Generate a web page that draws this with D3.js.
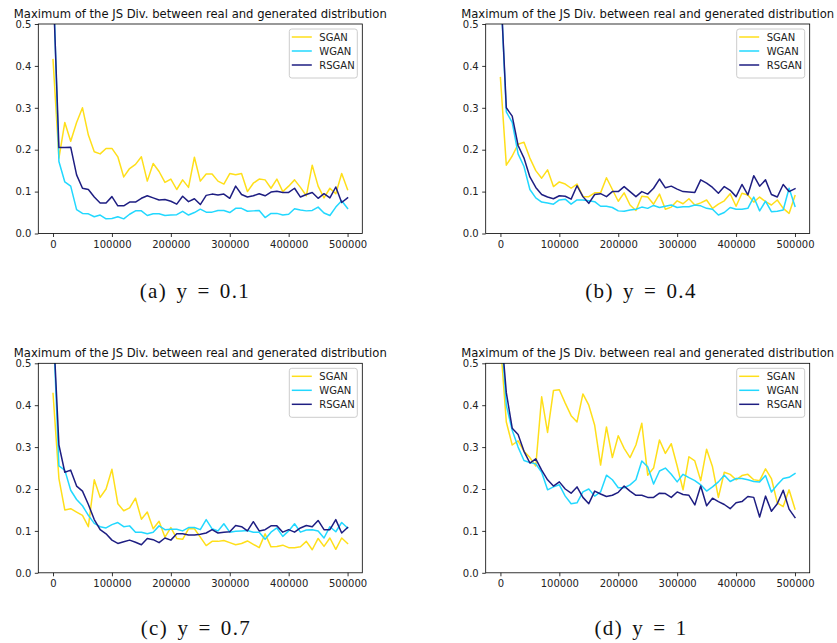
<!DOCTYPE html>
<html>
<head>
<meta charset="utf-8">
<script src="https://cdn.jsdelivr.net/npm/d3@7/dist/d3.min.js"></script>
<style>
  html, body { margin: 0; padding: 0; background: #ffffff; }
  svg { display: block; }
</style>
</head>
<body>
<script>
// ---------------- DATA ----------------
const steps = d3.range(0, 500001, 10000); // 51 iteration checkpoints
const seriesNames = ["SGAN", "WGAN", "RSGAN"];
const xTicks = [0, 100000, 200000, 300000, 400000, 500000];
const yTicks = [0.0, 0.1, 0.2, 0.3, 0.4, 0.5];
const chartTitle = "Maximum of the JS Div. between real and generated distribution";
const captions = ["(a) y = 0.1", "(b) y = 0.4", "(c) y = 0.7", "(d) y = 1"];

// Panel (a) y = 0.1
const sganA = [0.415,0.18,0.265,0.22,0.265,0.30,0.235,0.195,0.19,0.203,0.203,0.183,0.135,0.155,0.165,0.183,0.125,0.167,0.148,0.122,0.13,0.105,0.128,0.11,0.182,0.125,0.142,0.142,0.125,0.118,0.143,0.14,0.143,0.10,0.12,0.13,0.128,0.108,0.13,0.10,0.113,0.128,0.11,0.09,0.163,0.113,0.085,0.108,0.095,0.143,0.105];
const wganA = [0.62,0.172,0.123,0.113,0.057,0.048,0.047,0.04,0.044,0.035,0.036,0.04,0.035,0.046,0.054,0.054,0.043,0.047,0.047,0.043,0.044,0.045,0.053,0.044,0.05,0.058,0.051,0.051,0.055,0.055,0.05,0.06,0.06,0.053,0.054,0.055,0.038,0.048,0.048,0.044,0.046,0.059,0.056,0.054,0.055,0.063,0.049,0.043,0.063,0.078,0.06];
const rsganA = [0.6,0.205,0.205,0.206,0.14,0.108,0.105,0.087,0.073,0.073,0.088,0.066,0.066,0.075,0.075,0.084,0.09,0.085,0.08,0.081,0.077,0.07,0.089,0.076,0.083,0.069,0.091,0.094,0.092,0.094,0.084,0.113,0.093,0.087,0.09,0.095,0.09,0.099,0.101,0.098,0.098,0.108,0.087,0.093,0.098,0.084,0.095,0.085,0.111,0.074,0.085];

// Panel (b) y = 0.4
const sganB = [0.372,0.163,0.185,0.213,0.218,0.18,0.15,0.132,0.152,0.112,0.123,0.118,0.108,0.118,0.088,0.088,0.097,0.097,0.133,0.105,0.077,0.097,0.068,0.055,0.089,0.087,0.07,0.094,0.058,0.063,0.078,0.071,0.083,0.068,0.073,0.08,0.06,0.07,0.078,0.095,0.065,0.096,0.092,0.075,0.087,0.076,0.068,0.08,0.06,0.048,0.09];
const wganB = [0.6,0.29,0.265,0.19,0.16,0.105,0.085,0.075,0.073,0.07,0.08,0.082,0.07,0.08,0.08,0.078,0.076,0.065,0.065,0.062,0.054,0.053,0.056,0.058,0.063,0.06,0.067,0.062,0.065,0.068,0.062,0.064,0.064,0.068,0.066,0.06,0.058,0.044,0.05,0.062,0.058,0.058,0.06,0.087,0.054,0.077,0.052,0.053,0.056,0.108,0.065];
const rsganB = [0.6,0.30,0.28,0.21,0.18,0.135,0.11,0.093,0.087,0.083,0.09,0.089,0.082,0.114,0.088,0.072,0.093,0.095,0.088,0.1,0.1,0.112,0.1,0.088,0.1,0.094,0.108,0.13,0.109,0.113,0.106,0.1,0.099,0.098,0.128,0.12,0.11,0.096,0.112,0.103,0.088,0.117,0.092,0.138,0.113,0.128,0.093,0.087,0.117,0.1,0.107];

// Panel (c) y = 0.7
const sganC = [0.428,0.225,0.15,0.153,0.145,0.137,0.11,0.222,0.18,0.2,0.247,0.165,0.148,0.155,0.178,0.128,0.145,0.105,0.123,0.085,0.108,0.082,0.08,0.105,0.105,0.085,0.065,0.075,0.075,0.077,0.072,0.067,0.07,0.076,0.068,0.06,0.093,0.062,0.063,0.066,0.06,0.06,0.062,0.075,0.055,0.082,0.063,0.083,0.056,0.083,0.07];
const wganC = [0.6,0.255,0.245,0.197,0.175,0.16,0.137,0.118,0.11,0.107,0.115,0.12,0.11,0.112,0.097,0.097,0.093,0.097,0.112,0.103,0.104,0.104,0.1,0.108,0.108,0.103,0.127,0.105,0.1,0.117,0.097,0.099,0.1,0.101,0.097,0.097,0.08,0.097,0.107,0.087,0.1,0.117,0.097,0.102,0.103,0.1,0.083,0.11,0.098,0.12,0.107];
const rsganC = [0.6,0.305,0.24,0.245,0.207,0.195,0.163,0.127,0.103,0.093,0.078,0.07,0.074,0.078,0.073,0.067,0.082,0.079,0.072,0.083,0.078,0.093,0.093,0.09,0.09,0.092,0.095,0.103,0.095,0.097,0.098,0.113,0.11,0.1,0.122,0.1,0.103,0.112,0.112,0.097,0.103,0.097,0.107,0.113,0.11,0.125,0.103,0.103,0.127,0.095,0.108];

// Panel (d) y = 1
const sganD = [0.55,0.36,0.305,0.315,0.29,0.275,0.255,0.42,0.335,0.435,0.437,0.405,0.375,0.36,0.427,0.40,0.352,0.257,0.348,0.275,0.327,0.297,0.275,0.305,0.357,0.233,0.25,0.317,0.285,0.308,0.255,0.198,0.277,0.267,0.22,0.295,0.253,0.18,0.24,0.235,0.222,0.232,0.235,0.222,0.22,0.248,0.225,0.167,0.158,0.198,0.152];
const wganD = [0.6,0.40,0.34,0.30,0.268,0.263,0.26,0.24,0.198,0.205,0.21,0.183,0.165,0.167,0.193,0.20,0.183,0.193,0.233,0.222,0.203,0.203,0.21,0.222,0.267,0.253,0.212,0.243,0.25,0.235,0.217,0.235,0.227,0.22,0.21,0.195,0.205,0.217,0.233,0.218,0.225,0.225,0.222,0.218,0.217,0.232,0.193,0.21,0.225,0.228,0.237];
const rsganD = [0.6,0.43,0.345,0.33,0.29,0.262,0.272,0.245,0.222,0.207,0.217,0.20,0.19,0.205,0.18,0.165,0.195,0.188,0.182,0.185,0.192,0.207,0.195,0.185,0.185,0.18,0.18,0.19,0.189,0.18,0.193,0.187,0.185,0.162,0.207,0.16,0.178,0.17,0.163,0.153,0.167,0.17,0.182,0.18,0.133,0.183,0.147,0.165,0.197,0.152,0.132];

// ---------------- LAYOUT / STYLE ----------------
const W = 837, H = 643;
const colors = { SGAN: "#ffdf1a", WGAN: "#22d8ff", RSGAN: "#1e1e82" };
const panels = [
  { x: 38.3,  y: 24,    series: [sganA, wganA, rsganA], caption: captions[0], capX: 195, capY: 298 },
  { x: 485.7, y: 24,    series: [sganB, wganB, rsganB], caption: captions[1], capX: 641, capY: 298 },
  { x: 38.3,  y: 363.3, series: [sganC, wganC, rsganC], caption: captions[2], capX: 196, capY: 635 },
  { x: 485.7, y: 363.3, series: [sganD, wganD, rsganD], caption: captions[3], capX: 641, capY: 635 }
];
const pw = 324, ph = 209.5;

const svg = d3.select("body").append("svg")
  .attr("width", W).attr("height", H)
  .attr("viewBox", `0 0 ${W} ${H}`);

const x = d3.scaleLinear().domain([-25000, 525000]).range([0, pw]);
const y = d3.scaleLinear().domain([0, 0.5]).range([ph, 0]);

panels.forEach((p, pi) => {
  const g = svg.append("g").attr("transform", `translate(${p.x},${p.y})`);

  const clipId = "clip" + pi;
  g.append("clipPath").attr("id", clipId)
    .append("rect").attr("x", 0).attr("y", 0).attr("width", pw).attr("height", ph);

  const line = d3.line().x((d, i) => x(steps[i])).y(d => y(d));

  const lg = g.append("g").attr("clip-path", `url(#${clipId})`);
  p.series.forEach((vals, si) => {
    lg.append("path")
      .datum(vals)
      .attr("d", line)
      .attr("fill", "none")
      .attr("stroke", colors[seriesNames[si]])
      .attr("stroke-width", 1.5)
      .attr("stroke-linejoin", "round")
      .attr("stroke-linecap", "square");
  });

  // axes
  const xAxis = d3.axisBottom(x).tickValues(xTicks).tickFormat(d3.format("d"))
    .tickSizeInner(3.5).tickSizeOuter(0).tickPadding(3.5);
  const yAxis = d3.axisLeft(y).tickValues(yTicks).tickFormat(d3.format(".1f"))
    .tickSizeInner(3.5).tickSizeOuter(0).tickPadding(3.5);

  const gx = g.append("g").attr("transform", `translate(0,${ph})`).call(xAxis);
  const gy = g.append("g").call(yAxis);
  [gx, gy].forEach(a => {
    a.select(".domain").remove();
    a.selectAll("line").attr("stroke", "#000").attr("stroke-width", 0.8);
    a.selectAll("text").attr("fill", "#222").style("font-family", "'DejaVu Sans', sans-serif").style("font-size", "10px");
  });

  // spines
  g.append("rect").attr("x", 0).attr("y", 0).attr("width", pw).attr("height", ph)
    .attr("fill", "none").attr("stroke", "#000").attr("stroke-width", 0.8);

  // title
  g.append("text")
    .attr("x", pw / 2).attr("y", -6.5)
    .attr("text-anchor", "middle")
    .style("font-family", "'DejaVu Sans', sans-serif")
    .style("font-size", "11.6px")
    .attr("fill", "#111")
    .text(chartTitle);

  // legend
  const legW = 68, legH = 49;
  const leg = g.append("g").attr("transform", `translate(${pw - 5 - legW},5)`);
  leg.append("rect").attr("width", legW).attr("height", legH).attr("rx", 2.5)
    .attr("fill", "#fff").attr("fill-opacity", 0.8)
    .attr("stroke", "#cccccc").attr("stroke-width", 1);
  seriesNames.forEach((name, i) => {
    const ry = 8 + i * 14;
    leg.append("line").attr("x1", 2.5).attr("x2", 22.5).attr("y1", ry).attr("y2", ry)
      .attr("stroke", colors[name]).attr("stroke-width", 1.5);
    leg.append("text").attr("x", 30).attr("y", ry).attr("dy", "0.35em")
      .style("font-family", "'DejaVu Sans', sans-serif").style("font-size", "10px")
      .attr("fill", "#222").text(name);
  });

  // caption
  svg.append("text")
    .attr("x", p.capX).attr("y", p.capY)
    .attr("text-anchor", "middle")
    .style("font-family", "'Liberation Serif', serif")
    .style("font-size", "21px")
    .style("letter-spacing", "1.4px")
    .style("word-spacing", "2.5px")
    .attr("fill", "#111")
    .text(p.caption);
});
</script>
</body>
</html>
